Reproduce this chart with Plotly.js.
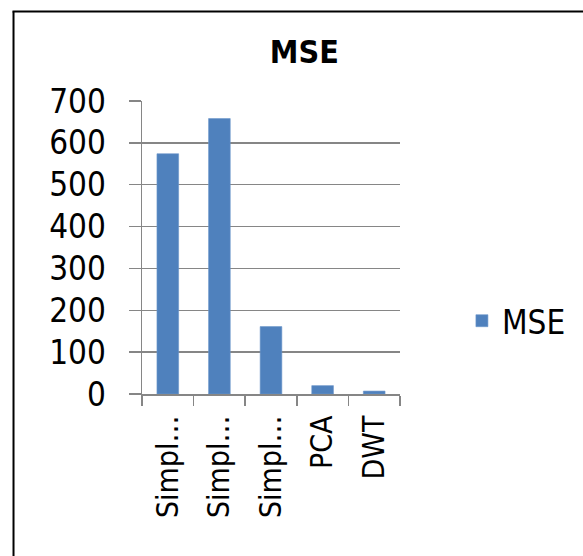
<!DOCTYPE html>
<html>
<head>
<meta charset="utf-8">
<script src="https://cdn.plot.ly/plotly-3.0.1.min.js"></script>
<style>html,body{margin:0;padding:0;background:#fff;}#chart{width:583px;height:556px;}</style>
</head>
<body>
<div id="chart"></div>
<script>
const categories = ["Simpl…", "Simpl…", "Simpl…", "PCA", "DWT"];
const mseValues = [574, 658, 161, 20, 7];
const yTickValues = [0, 100, 200, 300, 400, 500, 600, 700];
const seriesName = "MSE";
const chartTitle = "MSE";

const FONT = "'DejaVu Sans Condensed', 'Liberation Sans Narrow', sans-serif";
const GRID = "#868686";
const idx = categories.map((_, i) => i);

const trace = {
  type: "bar",
  x: idx,
  y: mseValues,
  name: seriesName,
  marker: { color: "#4f81bd", line: { color: "#6d97cb", width: 0.6 } },
  showlegend: true,
  hoverinfo: "none"
};

const layout = {
  width: 583, height: 556,
  paper_bgcolor: "#ffffff", plot_bgcolor: "#ffffff",
  font: { family: FONT, color: "#000", size: 33 },
  margin: { l: 142, r: 181, t: 101, b: 162, pad: 0 },
  bargap: 0.58,
  title: { text: "<b>" + chartTitle + "</b>", font: { family: FONT, size: 32, color: "#000" },
           x: 0.522, xanchor: "center", y: 0.907, yanchor: "middle" },
  showlegend: true,
  legend: { x: 1.24, xanchor: "left", y: 0.25, yanchor: "middle", font: { size: 33 },
            bgcolor: "rgba(0,0,0,0)", itemwidth: 30, tracegroupgap: 0 },
  xaxis: {
    range: [-0.5, 4.5], tickvals: idx, ticktext: categories, tickangle: -90,
    ticks: "", showgrid: false, zeroline: false, fixedrange: true,
    showline: true, linecolor: GRID, linewidth: 1.5,
    minor: { tick0: -0.5, dtick: 1, ticks: "outside", ticklen: 10, tickcolor: GRID, tickwidth: 1.5, showgrid: false },
    tickfont: { size: 30 }, ticklabelstandoff: 8
  },
  yaxis: {
    range: [0, 700], tickvals: yTickValues, ticks: "outside", ticklen: 12, tickcolor: GRID, tickwidth: 1.5,
    showgrid: true, gridcolor: GRID, gridwidth: 1.5, zeroline: false, fixedrange: true,
    showline: true, linecolor: GRID, linewidth: 1.5, tickfont: { size: 33 }, ticklabelstandoff: 16
  },
  shapes: [
    { type: "line", xref: "paper", yref: "paper", x0: -0.498, x1: -0.498, y0: -0.8, y1: 1.3055,
      line: { color: "#000", width: 2 }, layer: "above" },
    { type: "line", xref: "paper", yref: "paper", x0: -0.502, x1: 1.75, y0: 1.3055, y1: 1.3055,
      line: { color: "#000", width: 2 }, layer: "above" }
  ]
};

Plotly.newPlot("chart", [trace], layout, { displayModeBar: false, staticPlot: true });
</script>
</body>
</html>
